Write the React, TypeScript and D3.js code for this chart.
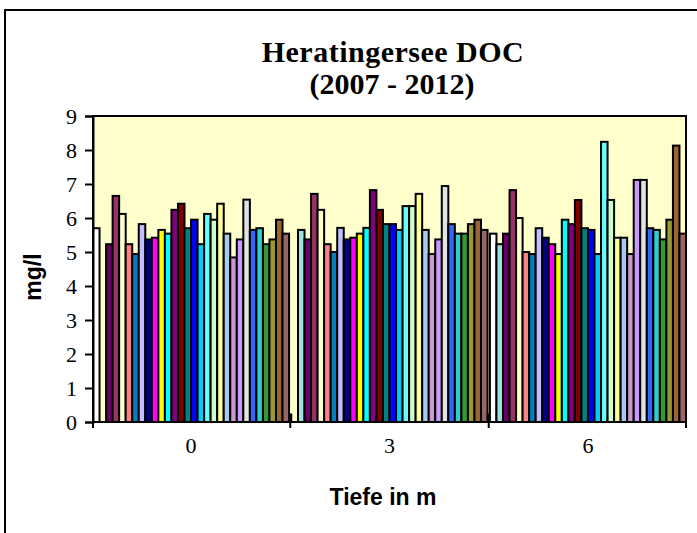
import React, { useRef, useEffect } from 'react';
import * as d3 from 'd3';

const categories = ['0', '3', '6'];

const seriesColors = [
  '#FFFFFF', '#A0E0E0', '#660066', '#993366', '#FFFFCC', '#FF8080',
  '#0080C0', '#C0C0FF', '#000080', '#FF00FF', '#FFFF00', '#00FFFF',
  '#800080', '#800000', '#008080', '#0000FF', '#00CCFF', '#66FFFF',
  '#CCFFCC', '#FFFF99', '#A6CAF0', '#CC99CC', '#CC99FF', '#E3E3E3',
  '#3366FF', '#33CCCC', '#339933', '#999933', '#996633', '#996666',
];

// DOC in mg/l, one value per sampling series, per depth
const depth0Values = [
  5.7, null, 5.23, 6.65, 6.12, 5.23, 4.94, 5.82, 5.37, 5.42, 5.65, 5.54, 6.24, 6.42, 5.7,
  5.95, 5.23, 6.12, 5.95, 6.42, 5.54, 4.84, 5.37, 6.54, 5.65, 5.7, 5.23, 5.37, 5.95, 5.54,
];
const depth3Values = [
  null, 5.65, 5.37, 6.71, 6.24, 5.23, 5.0, 5.71, 5.37, 5.42, 5.54, 5.71, 6.82, 6.24, 5.82,
  5.82, 5.65, 6.35, 6.35, 6.71, 5.65, 4.94, 5.37, 6.94, 5.82, 5.54, 5.54, 5.82, 5.95, 5.65,
];
const depth6Values = [
  5.54, 5.23, 5.54, 6.82, 6.0, 5.0, 4.94, 5.7, 5.42, 5.23, 4.94, 5.95, 5.82, 6.53, 5.7,
  5.65, 4.94, 8.24, 6.53, 5.42, 5.42, 4.94, 7.12, 7.12, 5.7, 5.65, 5.37, 5.95, 8.13, 5.54,
];
// the little extra bar sitting between the groups
const stubValues = [0.25, 0.25, null];

const yTicks = [0, 1, 2, 3, 4, 5, 6, 7, 8, 9];

const App = () => {
  const svgRef = useRef(null);

  useEffect(() => {
    const svg = d3.select(svgRef.current);
    svg.selectAll('*').remove();

    const W = 697, H = 533;
    const plot = { left: 93, right: 686, top: 116, bottom: 422 };
    const serif = '"Liberation Serif", "Times New Roman", serif';
    const sans = '"Liberation Sans", Arial, sans-serif';

    svg.append('rect').attr('width', W).attr('height', H).attr('fill', '#fff');
    // chart area border (runs off the right/bottom edge)
    svg.append('rect')
      .attr('x', 5).attr('y', 10).attr('width', 720).attr('height', 560)
      .attr('fill', '#fff').attr('stroke', '#000').attr('stroke-width', 2);

    const groups = [depth0Values, depth3Values, depth6Values];

    const x0 = d3.scaleBand().domain(categories).range([plot.left, plot.right])
      .paddingInner(0.012).paddingOuter(0);
    const x1 = d3.scaleBand().domain(d3.range(seriesColors.length).map(String))
      .range([0, x0.bandwidth()]).padding(0);
    const y = d3.scaleLinear().domain([0, 9]).range([plot.bottom, plot.top]);

    svg.append('rect')
      .attr('x', plot.left).attr('y', plot.top)
      .attr('width', plot.right - plot.left).attr('height', plot.bottom - plot.top)
      .attr('fill', '#FFFFCC');

    const g = svg.append('g');
    categories.forEach((cat, ci) => {
      groups[ci].forEach((v, si) => {
        if (v == null) return;
        g.append('rect')
          .attr('x', x0(cat) + x1(String(si)))
          .attr('y', y(v))
          .attr('width', x1.bandwidth())
          .attr('height', y(0) - y(v))
          .attr('fill', seriesColors[si])
          .attr('stroke', '#000')
          .attr('stroke-width', 2);
      });
      const s = stubValues[ci];
      if (s != null) {
        const gapMid = x0(cat) + x0.bandwidth() + (x0.step() - x0.bandwidth()) / 2;
        g.append('rect')
          .attr('x', gapMid - 2).attr('y', y(s))
          .attr('width', 4).attr('height', y(0) - y(s))
          .attr('fill', '#000');
      }
    });

    // plot frame
    svg.append('rect')
      .attr('x', plot.left).attr('y', plot.top)
      .attr('width', plot.right - plot.left).attr('height', plot.bottom - plot.top)
      .attr('fill', 'none').attr('stroke', '#000').attr('stroke-width', 2);

    // y axis
    const yAxis = svg.append('g').attr('transform', `translate(${plot.left},0)`)
      .call(d3.axisLeft(y).tickValues(yTicks).tickSize(8).tickPadding(8));
    yAxis.select('.domain').attr('stroke-width', 2);
    yAxis.selectAll('.tick line').attr('stroke-width', 2);
    yAxis.selectAll('.tick text')
      .attr('font-family', serif).attr('font-size', 22).attr('fill', '#000');

    // x axis: ticks between categories, labels centred in groups
    const xAxis = svg.append('g').attr('transform', `translate(0,${plot.bottom})`);
    xAxis.append('line').attr('x1', plot.left).attr('x2', plot.right)
      .attr('stroke', '#000').attr('stroke-width', 2);
    const bounds = [plot.left, ...categories.slice(1).map(c => x0(c) - (x0.step() - x0.bandwidth()) / 2), plot.right];
    bounds.forEach(bx => {
      xAxis.append('line').attr('x1', bx).attr('x2', bx).attr('y1', 0).attr('y2', 6)
        .attr('stroke', '#000').attr('stroke-width', 2);
    });
    categories.forEach(cat => {
      xAxis.append('text')
        .attr('x', x0(cat) + x0.bandwidth() / 2).attr('y', 31)
        .attr('text-anchor', 'middle')
        .attr('font-family', serif).attr('font-size', 22)
        .text(cat);
    });

    // titles
    const title = svg.append('text')
      .attr('text-anchor', 'middle').attr('font-family', serif)
      .attr('font-weight', 'bold').attr('font-size', 30);
    title.append('tspan').attr('x', 393).attr('y', 62).attr('letter-spacing', 0.5).text('Heratingersee DOC');
    title.append('tspan').attr('x', 392).attr('y', 94).text('(2007 - 2012)');

    svg.append('text')
      .attr('x', 383).attr('y', 505).attr('text-anchor', 'middle')
      .attr('font-family', sans).attr('font-weight', 'bold').attr('font-size', 23)
      .text('Tiefe in m');

    svg.append('text')
      .attr('transform', 'translate(41,277) rotate(-90)')
      .attr('text-anchor', 'middle')
      .attr('font-family', sans).attr('font-weight', 'bold').attr('font-size', 23)
      .text('mg/l');
  }, []);

  return (
    <svg ref={svgRef} width="697" height="533"
      style={{ position: 'absolute', left: 0, top: 0, display: 'block' }} />
  );
};

export default App;
